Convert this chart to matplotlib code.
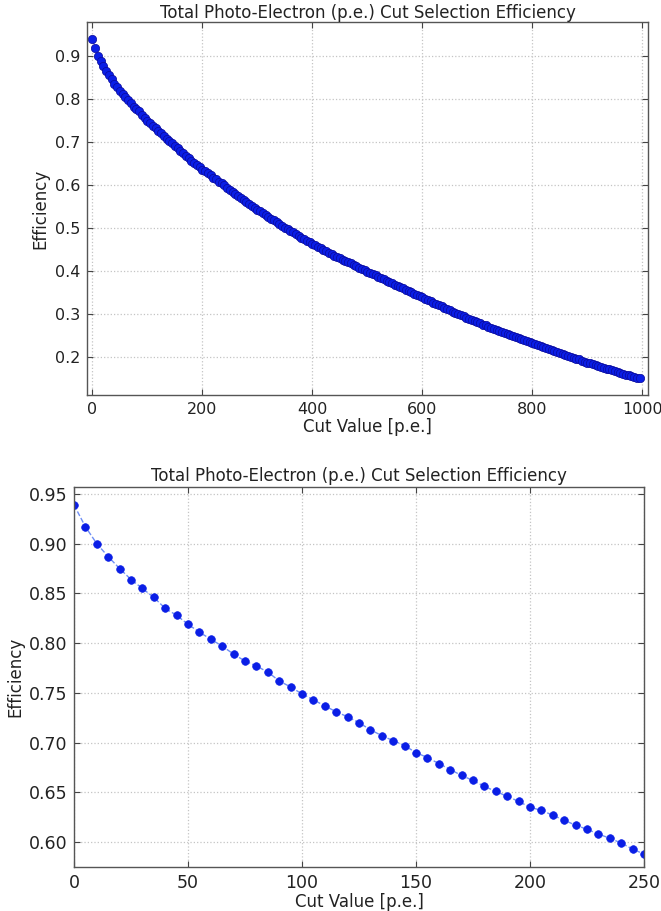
import numpy as np
import matplotlib
matplotlib.use("Agg")
import matplotlib.pyplot as plt
from matplotlib.ticker import FormatStrFormatter

# cut values in p.e., one point every 5 p.e.
cut_values = np.arange(0, 1000, 5)

# selection efficiency
efficiency = [
    0.939, 0.917, 0.900, 0.887, 0.875, 0.864, 0.855, 0.846, 0.835, 0.828,
    0.819, 0.811, 0.804, 0.797, 0.789, 0.782, 0.777, 0.771, 0.762, 0.756,
    0.749, 0.743, 0.737, 0.731, 0.726, 0.720, 0.713, 0.707, 0.702, 0.697,
    0.690, 0.685, 0.679, 0.673, 0.667, 0.662, 0.656, 0.651, 0.646, 0.641,
    0.635, 0.632, 0.627, 0.622, 0.617, 0.613, 0.608, 0.604, 0.599, 0.593,
    0.588, 0.583, 0.579, 0.574, 0.570, 0.565, 0.561, 0.556, 0.552, 0.547,
    0.543, 0.539, 0.535, 0.530, 0.526, 0.522, 0.518, 0.514, 0.509, 0.505,
    0.501, 0.497, 0.494, 0.490, 0.486, 0.482, 0.478, 0.474, 0.471, 0.467,
    0.463, 0.460, 0.456, 0.453, 0.450, 0.446, 0.443, 0.440, 0.436, 0.433,
    0.430, 0.427, 0.424, 0.421, 0.418, 0.414, 0.411, 0.408, 0.405, 0.402,
    0.399, 0.396, 0.393, 0.390, 0.387, 0.384, 0.381, 0.378, 0.375, 0.372,
    0.369, 0.366, 0.363, 0.360, 0.357, 0.354, 0.351, 0.348, 0.345, 0.342,
    0.339, 0.336, 0.333, 0.330, 0.327, 0.324, 0.321, 0.318, 0.315, 0.312,
    0.309, 0.306, 0.303, 0.301, 0.298, 0.295, 0.292, 0.289, 0.287, 0.284,
    0.281, 0.279, 0.276, 0.274, 0.271, 0.268, 0.266, 0.263, 0.261, 0.258,
    0.256, 0.254, 0.251, 0.249, 0.247, 0.244, 0.242, 0.240, 0.238, 0.235,
    0.233, 0.231, 0.228, 0.226, 0.224, 0.221, 0.219, 0.217, 0.215, 0.212,
    0.210, 0.208, 0.206, 0.203, 0.201, 0.199, 0.197, 0.195, 0.192, 0.190,
    0.188, 0.186, 0.184, 0.182, 0.180, 0.178, 0.176, 0.174, 0.172, 0.170,
    0.168, 0.166, 0.164, 0.162, 0.160, 0.159, 0.157, 0.155, 0.153, 0.151,
]
efficiency = np.array(efficiency)

titulo = "Total Photo-Electron (p.e.) Cut Selection Efficiency"
top_xticks = [0, 200, 400, 600, 800, 1000]
top_yticks = [0.2, 0.3, 0.4, 0.5, 0.6, 0.7, 0.8, 0.9]
bot_xticks = [0, 50, 100, 150, 200, 250]
bot_yticks = [0.60, 0.65, 0.70, 0.75, 0.80, 0.85, 0.90, 0.95]

plt.rcParams['font.family'] = 'DejaVu Sans'
texto = '#222222'


def estilo(ax, fs):
    ax.grid(True, color='#c4c4c4', linestyle=':', linewidth=0.9)
    ax.set_axisbelow(True)
    ax.tick_params(direction='in', top=True, right=True, length=4,
                   labelsize=fs, colors='#444444', labelcolor=texto, pad=5)
    for s in ax.spines.values():
        s.set_color('#555555')
        s.set_linewidth(1.0)


fig = plt.figure(figsize=(6.61, 9.11), dpi=100)

# painel de cima: curva inteira
ax1 = fig.add_axes([0.1316, 0.5664, 0.8487, 0.4094])
ax1.plot(cut_values, efficiency, 'o--', color='#3355ee', lw=1.0,
         markersize=6, markerfacecolor='#0a1ee6', markeredgecolor='#0a0a9a',
         markeredgewidth=0.5)
ax1.set_xlim(-10, 1010)
ax1.set_ylim(0.1126, 0.978)
ax1.set_xticks(top_xticks)
ax1.set_yticks(top_yticks)
ax1.yaxis.set_major_formatter(FormatStrFormatter('%.1f'))
estilo(ax1, 11.5)
ax1.set_title(titulo, fontsize=12, color=texto, pad=3)
ax1.set_xlabel("Cut Value [p.e.]", fontsize=12, color=texto, labelpad=1)
ax1.set_ylabel("Efficiency", fontsize=12, color=texto, labelpad=4)

# painel de baixo: zoom ate 250 p.e.
sel = cut_values <= 250
ax2 = fig.add_axes([0.112, 0.0483, 0.8623, 0.4171])
ax2.plot(cut_values[sel], efficiency[sel], 'o--', color='#6f8ff5', lw=1.0,
         markersize=5.5, markerfacecolor='#0a1ee6', markeredgecolor='#0a1ee6',
         markeredgewidth=0.5)
ax2.set_xlim(0, 250)
ax2.set_ylim(0.575, 0.957)
ax2.set_xticks(bot_xticks)
ax2.set_yticks(bot_yticks)
ax2.yaxis.set_major_formatter(FormatStrFormatter('%.2f'))
estilo(ax2, 12.5)
ax2.set_title(titulo, fontsize=12, color=texto, pad=4)
ax2.set_xlabel("Cut Value [p.e.]", fontsize=12, color=texto, labelpad=1)
ax2.set_ylabel("Efficiency", fontsize=12, color=texto, labelpad=3)

fig.savefig("out.png", dpi=100, facecolor='white')
